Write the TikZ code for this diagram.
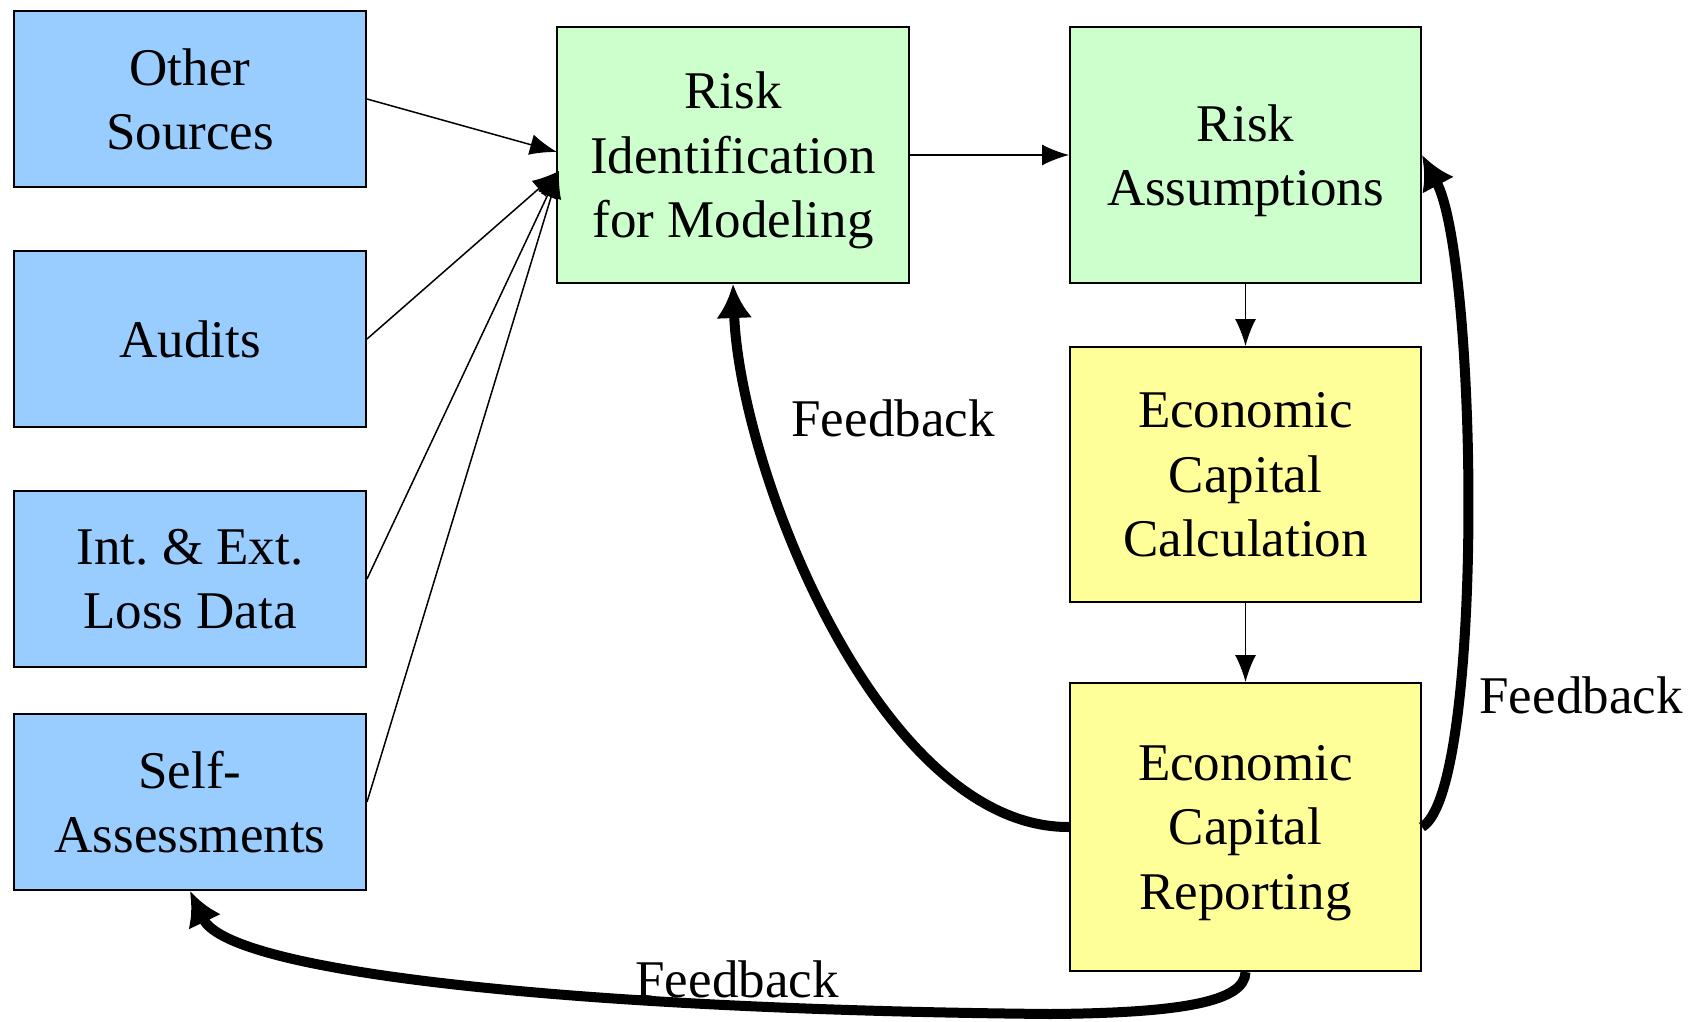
\documentclass[tikz,border=0pt]{standalone}
\usepackage{fontspec}
\setmainfont{Liberation Serif}
\usepackage{xcolor}
\usetikzlibrary{arrows.meta}

\definecolor{srcblue}{HTML}{99CCFF}
\definecolor{riskgreen}{HTML}{CCFFCC}
\definecolor{capyellow}{HTML}{FFFF99}

\tikzset{
  box/.style={draw,line width=2pt,inner sep=0pt,align=center,text depth=0pt,font=\fontsize{53}{64.5}\selectfont},
  src/.style={box,fill=srcblue,minimum width=352pt,minimum height=176pt},
  flow/.style={line width=1.5pt,-{Latex[length=27pt,width=21pt]}},
  fb/.style={line width=10pt,-{Latex[length=34pt,width=36pt]}},
  fblabel/.style={anchor=base,font=\fontsize{53}{64.5}\selectfont}
}

\begin{document}
\begin{tikzpicture}[x=1pt,y=-1pt]
\useasboundingbox (0,0) rectangle (1691,1022);
% sources on the left
\node[src] at (190,99) (other) {Other\\Sources};
\node[src] at (190,339) (audits) {Audits};
\node[src] at (190,579) (loss) {Int.\ \&\ Ext.\\Loss Data};
\node[src] at (190,802) (self) {Self-\\Assessments};
% main chain
\node[box,fill=riskgreen,minimum width=352pt,minimum height=256pt] at (733,155) (riskid) {Risk\\Identification\\for Modeling};
\node[box,fill=riskgreen,minimum width=351pt,minimum height=256pt] at (1245.5,155) (riskas) {Risk\\Assumptions};
\node[box,fill=capyellow,minimum width=351pt,minimum height=255pt] at (1245.5,474.5) (eccalc) {Economic\\Capital\\Calculation};
\node[box,fill=capyellow,minimum width=351pt,minimum height=288pt] at (1245.5,827) (ecrep) {Economic\\Capital\\Reporting};
\coordinate (in1) at (557,152);
\coordinate (in2) at (559,171);
\draw[flow] (other.east)--(in1);
\draw[flow] (audits.east)--(in2);
\draw[flow] (loss.east)--(in2);
\draw[flow] (self.east)--(in2);
\draw[flow] (riskid.east)--(riskas.west);
\draw[flow] (riskas.south)--(eccalc.north);
\draw[flow] (eccalc.south)--(ecrep.north);
% feedback loops
\draw[fb] (ecrep.west) .. controls (880,828) and (740,470) .. (riskid.south);
\draw[fb] (ecrep.east) .. controls (1485,790) and (1478,260) .. (riskas.east);
\draw[fb] (ecrep.south) .. controls (1245,1002) and (1180,1013) .. (1050,1014)
  .. controls (600,1010) and (230,975) .. (self.south);
\node[fblabel] at (893,436) (fb1) {Feedback};
\node[fblabel] at (1581,713) (fb2) {Feedback};
\node[fblabel] at (737,997) (fb3) {Feedback};
\end{tikzpicture}
\end{document}
